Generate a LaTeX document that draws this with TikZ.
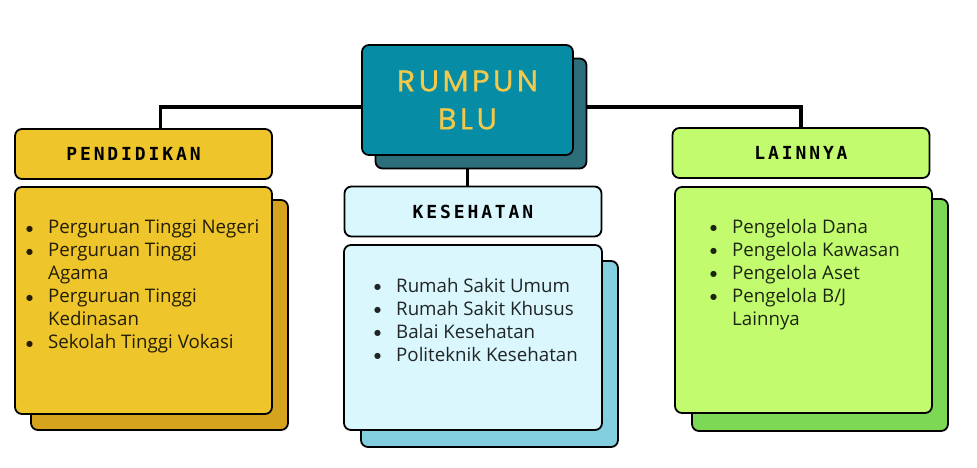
\documentclass[tikz,border=0pt]{standalone}
\usepackage{fontspec}
\setmainfont{Open Sans}
\newfontfamily\headfont[LetterSpace=16]{DejaVu Sans Mono}
\newfontfamily\titlefont[LetterSpace=12,FakeBold=0.6]{Poppins}
\newfontfamily\dotfont{DejaVu Sans}
\usetikzlibrary{positioning,backgrounds}

\definecolor{rumpunFront}{HTML}{078CA6}
\definecolor{rumpunBack}{HTML}{2C6E79}
\definecolor{rumpunText}{HTML}{F4C94A}
\definecolor{pendFill}{HTML}{EEC52B}
\definecolor{pendBack}{HTML}{D6A31E}
\definecolor{kesFill}{HTML}{D9F7FD}
\definecolor{kesBack}{HTML}{84CFDF}
\definecolor{lainFill}{HTML}{C2FC6E}
\definecolor{lainBack}{HTML}{7DD856}

\newcommand{\itm}[1]{\makebox[22pt][l]{\raisebox{2.5pt}{\dotfont\fontsize{8}{8}\selectfont ●}}#1}
\newcommand{\cont}[1]{\hspace*{22pt}#1}

\begin{document}
\begin{tikzpicture}[x=1pt, y=-1pt,
    box/.style={rectangle, rounded corners=7pt, draw=black, line width=1.8pt, inner sep=0pt},
    headbox/.style={box, minimum width=257pt, minimum height=50pt, font=\headfont\bfseries\fontsize{18}{18}\selectfont},
    titlebox/.style={box, minimum width=211pt, minimum height=110pt, align=center, text=rumpunText, font=\titlefont\fontsize{30}{38}\selectfont},
    listtext/.style={anchor=north west, inner sep=0pt, align=left, text=black, text opacity=0.85, font=\fontsize{18.7}{23}\selectfont},
    link/.style={line width=3.2pt, black}
]
    \useasboundingbox (0,0) rectangle (977,468);

    % Title
    \node[titlebox, fill=rumpunBack] (titleShadow) at (481,113.5) {};
    \node[titlebox, fill=rumpunFront] (title) at (467.5,100) {RUMPUN\\BLU};

    % Headers
    \node[headbox, fill=pendFill] (pendHead) at (143.5,154) {\hspace*{-20pt}PENDIDIKAN};
    \node[headbox, fill=kesFill] (kesHead) at (473,211.5) {KESEHATAN};
    \node[headbox, fill=lainFill] (lainHead) at (801,153) {LAINNYA};

    % Lists
    \node[box, fill=pendBack, minimum width=257pt, minimum height=230pt] (pendShadow) at (159.5,315) {};
    \node[box, fill=pendFill, minimum width=257pt, minimum height=227pt] (pendBody) at (143.5,300.5) {};
    \node[listtext] (pendList) at (26,220) {\itm{Perguruan Tinggi Negeri}\\ \itm{Perguruan Tinggi}\\ \cont{Agama}\\ \itm{Perguruan Tinggi}\\ \cont{Kedinasan}\\ \itm{Sekolah Tinggi Vokasi}};

    \node[box, fill=kesBack, minimum width=257pt, minimum height=186pt] (kesShadow) at (489.5,354) {};
    \node[box, fill=kesFill, minimum width=258pt, minimum height=185pt] (kesBody) at (473,337.5) {};
    \node[listtext] (kesList) at (374,278) {\itm{Rumah Sakit Umum}\\ \itm{Rumah Sakit Khusus}\\ \itm{Balai Kesehatan}\\ \itm{Politeknik Kesehatan}};

    \node[box, fill=lainBack, minimum width=256pt, minimum height=232pt] (lainShadow) at (820,315) {};
    \node[box, fill=lainFill, minimum width=257pt, minimum height=226pt] (lainBody) at (803.5,300) {};
    \node[listtext] (lainList) at (710,219) {\itm{Pengelola Dana}\\ \itm{Pengelola Kawasan}\\ \itm{Pengelola Aset}\\ \itm{Pengelola B/J}\\ \cont{Lainnya}};

    % Links
    \coordinate (hub) at (467,107);
    \begin{pgfonlayer}{background}
        \draw[link] (hub) -| ([xshift=17pt]pendHead.north);
        \draw[link] (hub) -| (lainHead.north);
        \draw[link] (title) -- (title |- kesHead.north);
    \end{pgfonlayer}
\end{tikzpicture}
\end{document}
